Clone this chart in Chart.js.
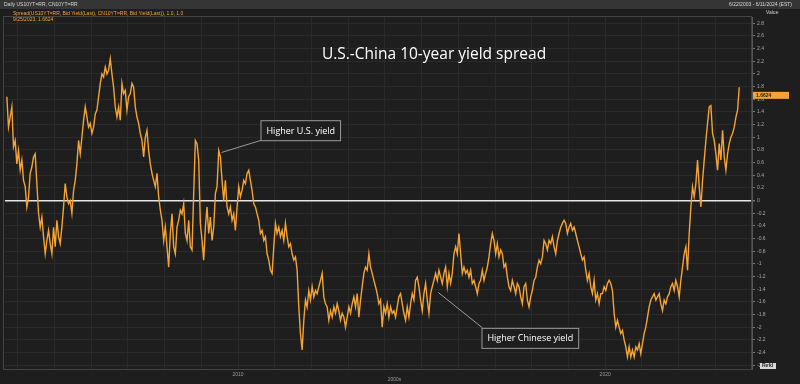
<!DOCTYPE html>
<html>
<head>
<meta charset="utf-8">
<script src="https://cdn.jsdelivr.net/npm/chart.js@4.4.1/dist/chart.umd.min.js"></script>
<style>
  html, body { margin: 0; padding: 0; background: #1e1e1e; }
  #chart { display: block; }
</style>
</head>
<body>
<canvas id="chart" width="800" height="384"></canvas>
<script>
// Spread in percentage points at an even spacing in time
const spreadValues = [
  1.64, 1.16, 1.32, 1.48, 0.85, 0.95, 0.58, 0.79, 0.48, 0.64,
  0.32, 0.22, -0.1, 0.06, 0.43, 0.53, 0.69, 0.74, 0.27, -0.2,
  -0.42, -0.26, -0.57, -0.84, -0.63, -0.47, -0.68, -0.84, -0.42, -0.73,
  -0.31, -0.57, -0.68, -0.42, -0.1, 0.27, 0.06, -0.05, 0, -0.2,
  0.16, 0.32, 0.58, 0.95, 0.74, 1.0, 1.27, 1.48, 1.32, 1.16,
  1.22, 1.06, 1.16, 1.37, 1.43, 1.64, 1.85, 2.0, 1.95, 2.11,
  2.0, 2.06, 2.24, 2.0, 1.79, 1.48, 1.32, 1.48, 1.27, 1.85,
  1.69, 1.74, 1.43, 1.64, 1.69, 1.85, 1.79, 1.48, 1.32, 1.22,
  1.06, 0.95, 0.69, 1.0, 1.11, 0.79, 0.58,
  0.43, 0.32, 0.22, 0.43, 0.06, -0.15, -0.31, -0.63, -0.42, -0.73,
  -1.05, -0.52, -0.21, -0.73, -0.84, -0.42, -0.31, -0.15, -0.21, -0.05,
  -0.52, -0.63, -0.31, -0.73, -0.78, 0.11, 0.95, 0.9, 0.64, -0.36,
  -0.63, -0.94, -0.42, -0.1, -0.52, -0.26, -0.63, -0.42, 0.11, 0.22,
  0.79, 0.69, 0.32, 0.0, 0.32, -0.1, -0.21, -0.1, -0.31, -0.21,
  -0.47, -0.1, 0.22, 0.06, 0.16, 0.32, 0.27, 0.43, 0.48, 0.32,
  0.16, -0.05, -0.1, -0.21, -0.31, -0.52, -0.47, -0.63, -0.57, -0.84,
  -0.94, -1.1, -1.15, -0.73, -0.36, -0.52, -0.42, -0.57, -0.47, -0.63,
  -0.36, -0.57, -0.73, -0.68, -0.84, -0.94, -0.89, -1.1, -1.68,
  -2.1, -2.36, -1.89, -1.57, -1.68, -1.42, -1.57, -1.36, -1.52, -1.42,
  -1.47, -1.36, -1.26, -1.15, -1.52, -1.63, -1.68, -1.89, -1.74, -1.84,
  -1.68, -1.78, -1.63, -1.74, -1.89, -1.78, -1.84, -2.0, -1.84, -1.68,
  -1.78, -1.63, -1.52, -1.68, -1.47, -1.84, -1.57, -1.36, -1.15, -1.05,
  -1.1, -0.84, -1.05, -1.15, -1.26, -1.36, -1.47, -1.63, -1.57, -2.0,
  -1.68, -1.78, -1.63, -1.84, -1.68, -1.78, -1.74, -1.84, -1.68, -1.52,
  -1.47, -1.63, -1.78, -1.89, -1.68, -1.84, -1.63, -1.47, -1.57, -1.26,
  -1.21, -1.36, -1.57, -1.74, -1.47, -1.31, -1.57, -1.78, -1.47, -1.36,
  -1.26, -1.15, -1.26, -1.1, -1.21, -1.31, -1.15, -1.05, -1.36, -1.15,
  -1.31,
  -1.15, -0.84, -0.73, -0.84, -0.52, -0.84, -1.15, -1.05, -1.15, -1.1,
  -1.21, -1.1, -1.31, -1.26, -1.36, -1.47, -1.31, -1.26, -1.1, -1.26,
  -1.15, -1.05, -0.89, -0.68, -0.52, -0.63, -0.84, -0.68, -0.89, -0.78,
  -0.84, -1.05, -1.0, -1.21, -1.36, -1.42, -1.26, -1.36, -1.47, -1.31,
  -1.36, -1.52, -1.63, -1.36, -1.31, -1.57, -1.68, -1.52, -1.42, -1.26,
  -1.21, -1.05, -0.94, -1.0, -0.89, -0.63, -0.68, -0.78, -0.63, -0.68,
  -0.57, -0.73, -0.84, -0.63, -0.52, -0.42, -0.36, -0.31, -0.36, -0.52,
  -0.42, -0.36, -0.47, -0.42, -0.52, -0.63, -0.73, -0.84, -0.94, -0.89,
  -1.1, -1.26, -1.15, -1.36, -1.47, -1.26, -1.57, -1.47, -1.63, -1.47,
  -1.47, -1.36, -1.42, -1.31, -1.26, -1.31, -1.42, -1.78, -2.0, -1.89,
  -2.0, -2.1, -2.05, -2.2, -2.31, -2.47, -2.31, -2.47, -2.36, -2.47,
  -2.31, -2.36, -2.26, -2.42, -2.26, -2.1, -2.0, -1.84, -1.68, -1.57,
  -1.52, -1.47, -1.57, -1.52, -1.47, -1.63, -1.74, -1.57, -1.63, -1.52,
  -1.47, -1.36, -1.31, -1.42, -1.26, -1.36, -1.52, -1.26, -1.05, -0.84,
  -0.73, -1.1, -0.52, -0.1, 0.22, 0.06, 0.27, 0.64, 0.22, -0.1,
  0.32, 0.64, 0.95, 1.22, 1.48, 1.5, 1.06, 0.95, 0.74, 0.48,
  0.9, 0.64, 1.11, 0.69, 0.48, 0.74, 0.9, 1.0, 1.06, 1.16,
  1.32, 1.43, 1.79
];

// samples are evenly spaced from late 2003 to late 2023
const startYear = 2003.70;
const stepYears = 0.04545;

const yearGrid = [2004, 2005, 2006, 2007, 2008, 2009, 2010, 2011, 2012, 2013,
  2014, 2015, 2016, 2017, 2018, 2019, 2020, 2021, 2022, 2023];
const yearLabels = [2010, 2020];
const valueTicks = [-2.6, -2.4, -2.2, -2, -1.8, -1.6, -1.4, -1.2, -1, -0.8, -0.6, -0.4, -0.2,
  0, 0.2, 0.4, 0.6, 0.8, 1, 1.2, 1.4, 1.6, 1.8, 2, 2.2, 2.4, 2.6, 2.8];

const chartTitle = 'U.S.-China 10-year yield spread';
const lastValueLabel = '1.6624';
const headerLeft = 'Daily US10YT=RR, CN10YT=RR';
const headerRight = '6/22/2003 - 6/11/2024 (EST)';
const legendLine1 = 'Spread(US10YT=RR, Bid Yield(Last), CN10YT=RR, Bid Yield(Last)), 1.0, 1.0';
const legendLine2 = '9/25/2023, 1.6624';

// callouts: tip on the line and top-left corner of the box, in data units
const callouts = [
  { text: 'Higher U.S. yield', tip: [2009.55, 0.76], box: [2010.61, 1.27] },
  { text: 'Higher Chinese yield', tip: [2015.45, -1.45], box: [2016.63, -2.01] }
];

const points = spreadValues.map((v, i) => ({ x: startYear + i * stepYears, y: v }));

const ORANGE = '#f5a334';

const decorPlugin = {
  id: 'decor',
  beforeDraw(chart) {
    const ctx = chart.ctx;
    const { width, height } = chart;
    ctx.save();
    ctx.fillStyle = '#1e1e1e';
    ctx.fillRect(0, 0, width, height);
    // header strip
    ctx.fillStyle = '#353535';
    ctx.fillRect(0, 0, width, 9);
    ctx.fillStyle = '#d8d8d8';
    ctx.font = '5px "Liberation Sans"';
    ctx.textBaseline = 'middle';
    ctx.textAlign = 'left';
    ctx.fillText(headerLeft, 4, 5);
    ctx.textAlign = 'right';
    ctx.fillText(headerRight, 792, 5);
    ctx.restore();
  },
  afterDatasetsDraw(chart) {
    const ctx = chart.ctx;
    const xs = chart.scales.x, ys = chart.scales.y;
    const area = chart.chartArea;
    ctx.save();

    // legend text in orange
    ctx.fillStyle = ORANGE;
    ctx.font = '5px "Liberation Sans"';
    ctx.textAlign = 'left';
    ctx.textBaseline = 'middle';
    ctx.fillText(legendLine1, 13, 14);
    ctx.fillText(legendLine2, 13, 20);

    // axis caption
    ctx.fillStyle = '#cfcfcf';
    ctx.fillText('Value', 766, 13);

    // title
    ctx.fillStyle = '#ffffff';
    ctx.font = '15.5px "Open Sans"';
    ctx.textAlign = 'center';
    ctx.fillText(chartTitle, 434, 55);

    // callouts
    ctx.font = '9px "Open Sans"';
    ctx.textAlign = 'left';
    callouts.forEach(c => {
      const tx = xs.getPixelForValue(c.tip[0]), ty = ys.getPixelForValue(c.tip[1]);
      const bx = xs.getPixelForValue(c.box[0]), by = ys.getPixelForValue(c.box[1]);
      const w = ctx.measureText(c.text).width + 11, h = 20;
      ctx.strokeStyle = '#9a9a9a';
      ctx.lineWidth = 1;
      ctx.beginPath();
      ctx.moveTo(tx, ty);
      ctx.lineTo(bx + 1, by + (by > ty ? 0 : h));
      ctx.stroke();
      ctx.fillStyle = '#1e1e1e';
      ctx.fillRect(bx, by, w, h);
      ctx.strokeRect(bx + 0.5, by + 0.5, w, h);
      ctx.fillStyle = '#ffffff';
      ctx.fillText(c.text, bx + 6, by + h / 2 + 1);
    });

    // last value badge on the axis
    const lastY = ys.getPixelForValue(parseFloat(lastValueLabel));
    ctx.fillStyle = ORANGE;
    ctx.fillRect(area.right + 1, lastY - 3.5, 36, 7);
    ctx.fillStyle = '#1e1e1e';
    ctx.font = 'bold 5px "Liberation Sans"';
    ctx.fillText(lastValueLabel, area.right + 4, lastY);

    // small box at the bottom of the axis
    ctx.fillStyle = '#d8d8d8';
    ctx.fillRect(area.right + 8, area.bottom - 6, 16, 6);
    ctx.fillStyle = '#1e1e1e';
    ctx.fillText('Refd', area.right + 10, area.bottom - 3);

    // frame
    ctx.strokeStyle = '#444';
    ctx.lineWidth = 1;
    ctx.strokeRect(area.left - 1.5, area.top - 0.5, area.right - area.left + 1, area.bottom - area.top + 1);

    ctx.fillStyle = '#9a9a9a';
    ctx.font = '5px "Liberation Sans"';
    ctx.textAlign = 'center';
    ctx.fillText('2000s', (area.left + area.right) / 2 + 16, 380);
    ctx.restore();
  }
};

new Chart(document.getElementById('chart'), {
  type: 'line',
  data: {
    datasets: [{
      data: points,
      borderColor: ORANGE,
      borderWidth: 1.4,
      pointRadius: 0,
      tension: 0
    }]
  },
  options: {
    responsive: false,
    animation: false,
    events: [],
    layout: { padding: { left: 5, top: 17, right: 0, bottom: 0 } },
    plugins: { legend: { display: false }, tooltip: { enabled: false } },
    scales: {
      x: {
        type: 'linear',
        min: 2003.65,
        max: 2024.0,
        afterBuildTicks: s => { s.ticks = yearGrid.map(v => ({ value: v })); },
        afterFit: s => { s.height = 15; },
        grid: { color: '#2a2a2a', drawTicks: false },
        border: { display: false },
        ticks: {
          autoSkip: false,
          maxRotation: 0,
          padding: 3,
          color: '#9a9a9a',
          font: { size: 5, family: 'Liberation Sans' },
          callback: v => yearLabels.includes(v) ? String(v) : ''
        }
      },
      y: {
        position: 'right',
        min: -2.66,
        max: 2.9,
        afterBuildTicks: s => { s.ticks = valueTicks.map(v => ({ value: v })); },
        afterFit: s => { s.width = 48; },
        grid: {
          color: c => c.tick && Math.abs(c.tick.value) < 1e-9 ? '#e6e6e6' : '#2a2a2a',
          lineWidth: c => c.tick && Math.abs(c.tick.value) < 1e-9 ? 1.6 : 1,
          drawTicks: true,
          tickLength: 3,
          tickColor: '#777'
        },
        border: { display: true, color: '#555' },
        ticks: {
          autoSkip: false,
          padding: 2,
          color: '#a8a8a8',
          font: { size: 5, family: 'Liberation Sans' },
          callback: v => Number.isInteger(v) ? String(v) : v.toFixed(1)
        }
      }
    }
  },
  plugins: [decorPlugin]
});
</script>
</body>
</html>
